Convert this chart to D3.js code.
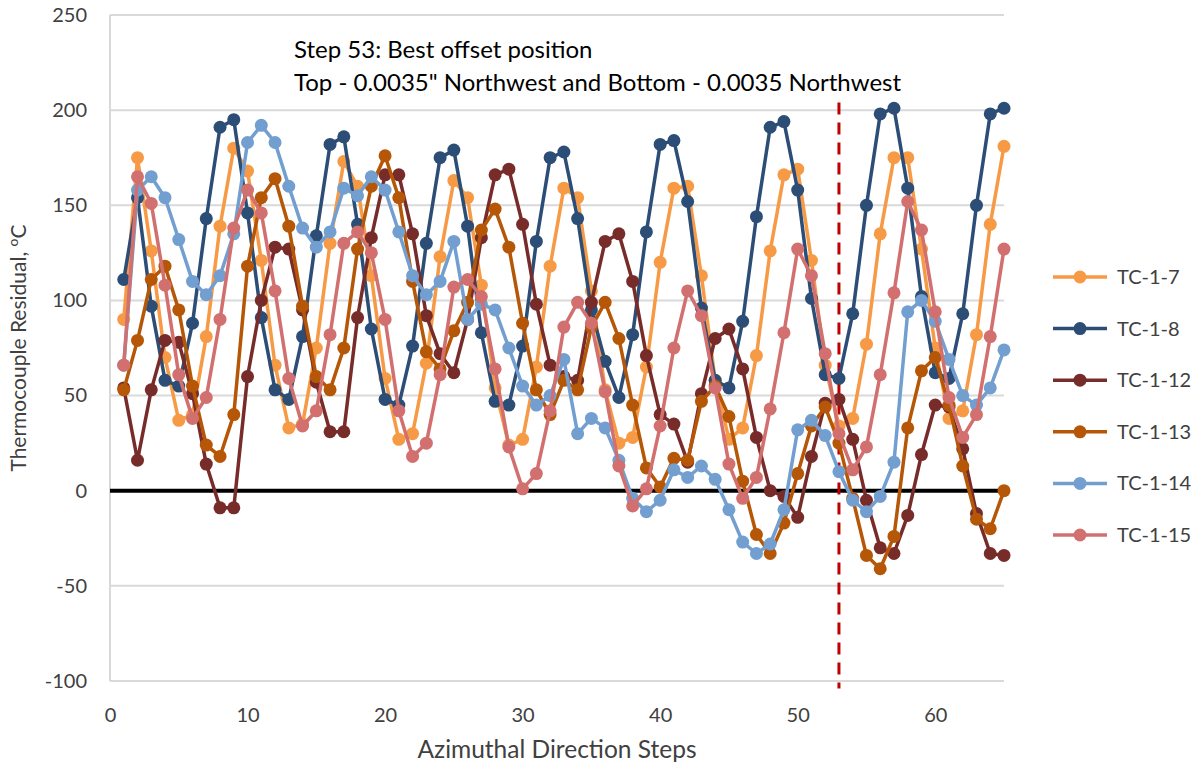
<!DOCTYPE html>
<html>
<head>
<meta charset="utf-8">
<script src="https://cdn.jsdelivr.net/npm/d3@7"></script>
<style>
  body { margin: 0; background: #fff; }
  text { font-family: Lato, "Open Sans", sans-serif; fill: #404040; }
</style>
</head>
<body>
<div id="chart"></div>
<script>
// azimuthal steps 1..65
var steps = d3.range(1, 66);

var seriesNames = ["TC-1-7", "TC-1-8", "TC-1-12", "TC-1-13", "TC-1-14", "TC-1-15"];
var seriesColors = ["#f79a46", "#2c4d75", "#772c2a", "#b65708", "#729fd0", "#d1706e"];

var tc7 = [90, 175, 126, 70, 37, 40, 81, 139, 180, 168, 121, 66, 33, 35, 75, 130, 173, 160, 113, 59,
  27, 30, 67, 123, 163, 154, 108, 54, 24, 27, 65, 118, 159, 154, 105, 53, 25, 28, 65, 120,
  159, 160, 113, 58, 27, 33, 71, 126, 166, 169, 121, 66, 34, 38, 77, 135, 175, 175, 127, 75,
  38, 42, 82, 140, 181];
var tc8 = [111, 154, 97, 58, 55, 88, 143, 191, 195, 146, 91, 53, 48, 81, 134, 182, 186, 140, 85, 48,
  45, 76, 130, 175, 179, 139, 83, 47, 45, 76, 131, 175, 178, 143, 95, 68, 49, 82, 136, 182,
  184, 152, 96, 58, 54, 89, 144, 191, 194, 158, 101, 61, 59, 93, 150, 198, 201, 159, 102, 62,
  59, 93, 150, 198, 201];
var tc12 = [54, 16, 53, 79, 78, 51, 14, -9, -9, 60, 100, 128, 127, 95, 57, 31, 31, 91, 133, 166,
  166, 135, 92, 72, 62, 90, 133, 166, 169, 140, 98, 66, 60, 58, 99, 131, 135, 110, 71, 40,
  35, 15, 51, 80, 85, 64, 28, 0, -3, -14, 18, 46, 48, 27, -5, -30, -33, -13, 19, 45,
  44, 22, -12, -33, -34];
var tc13 = [53, 79, 111, 118, 95, 55, 24, 18, 40, 118, 154, 164, 139, 97, 60, 53, 75, 127, 160, 176,
  154, 110, 73, 64, 84, 99, 137, 148, 128, 88, 53, 40, 58, 53, 86, 99, 80, 45, 12, 2,
  17, 16, 47, 55, 39, 5, -23, -33, -17, 9, 34, 44, 25, -4, -34, -41, -24, 33, 63, 70,
  45, 13, -15, -20, 0];
var tc14 = [66, 158, 165, 154, 132, 110, 103, 113, 135, 183, 192, 183, 160, 138, 128, 136, 159, 155, 165, 158,
  136, 113, 103, 110, 131, 90, 98, 95, 75, 55, 45, 50, 69, 30, 38, 33, 16, -4, -11, -5,
  11, 7, 13, 6, -10, -27, -33, -28, -10, 32, 37, 29, 10, -5, -11, -3, 15, 94, 100, 89,
  69, 50, 45, 54, 74];
var tc15 = [66, 165, 151, 108, 61, 38, 49, 90, 138, 158, 146, 105, 59, 34, 42, 82, 130, 136, 125, 90,
  42, 18, 25, 61, 107, 111, 102, 64, 23, 1, 9, 42, 86, 99, 88, 52, 13, -8, 1, 34,
  75, 105, 92, 54, 14, -4, 7, 43, 83, 127, 113, 72, 30, 11, 23, 61, 104, 152, 137, 94,
  49, 28, 40, 81, 127];

var xTicks = [0, 10, 20, 30, 40, 50, 60];
var yTicks = [-100, -50, 0, 50, 100, 150, 200, 250];
var bestStep = 53;
var noteLines = ["Step 53: Best offset position",
  "Top - 0.0035\" Northwest and Bottom - 0.0035 Northwest"];

var allSeries = [tc7, tc8, tc12, tc13, tc14, tc15];

window.onload = function() {
var width = 1196, height = 769;
var left = 110, right = 1004, plotTop = 15, plotBottom = 681;

var svg = d3.select("#chart")
  .append("svg")
  .attr("width", width)
  .attr("height", height);

var x = d3.scaleLinear().domain([0, 65]).range([left, right]);
var y = d3.scaleLinear().domain([-100, 250]).range([plotBottom, plotTop]);

// gridlines
svg.selectAll("line.grid")
  .data(yTicks)
  .enter()
  .append("line")
  .attr("class", "grid")
  .attr("x1", left)
  .attr("x2", right)
  .attr("y1", function(d) { return y(d); })
  .attr("y2", function(d) { return y(d); })
  .attr("stroke", "#d9d9d9")
  .attr("stroke-width", 2);

// left axis line
svg.append("line")
  .attr("x1", left).attr("x2", left)
  .attr("y1", plotTop).attr("y2", plotBottom)
  .attr("stroke", "#d9d9d9")
  .attr("stroke-width", 2);

// y tick labels (plain hyphen for negatives, like the original)
var yAxis = d3.axisLeft(y).tickValues(yTicks).tickSize(0).tickPadding(23)
  .tickFormat(function(d) { return String(d); });
var gy = svg.append("g")
  .attr("transform", "translate(" + left + ",0)")
  .call(yAxis);
gy.select(".domain").remove();
gy.selectAll("text")
  .attr("font-size", "20px")
  .style("font-family", "Lato, sans-serif")
  .attr("fill", "#404040");

// x tick labels
var xAxis = d3.axisBottom(x).tickValues(xTicks).tickSize(0).tickPadding(27)
  .tickFormat(function(d) { return String(d); });
var gx = svg.append("g")
  .attr("transform", "translate(0," + plotBottom + ")")
  .call(xAxis);
gx.select(".domain").remove();
gx.selectAll("text")
  .attr("font-size", "20px")
  .style("font-family", "Lato, sans-serif")
  .attr("fill", "#404040");

// zero line
svg.append("line")
  .attr("x1", left).attr("x2", right)
  .attr("y1", y(0)).attr("y2", y(0))
  .attr("stroke", "#000")
  .attr("stroke-width", 4);

// best step marker
svg.append("line")
  .attr("x1", x(bestStep)).attr("x2", x(bestStep))
  .attr("y1", y(204)).attr("y2", y(-104))
  .attr("stroke", "#c00000")
  .attr("stroke-width", 3)
  .attr("stroke-dasharray", "12,8");

// series
var line = d3.line()
  .x(function(d, i) { return x(steps[i]); })
  .y(function(d) { return y(d); });

allSeries.forEach(function(vals, s) {
  var g = svg.append("g");
  g.append("path")
    .attr("d", line(vals))
    .attr("fill", "none")
    .attr("stroke", seriesColors[s])
    .attr("stroke-width", 3.5)
    .attr("stroke-linejoin", "round");
  g.selectAll("circle")
    .data(vals)
    .enter()
    .append("circle")
    .attr("cx", function(d, i) { return x(steps[i]); })
    .attr("cy", function(d) { return y(d); })
    .attr("r", 6.5)
    .attr("fill", seriesColors[s]);
});

// note text
svg.selectAll("text.note")
  .data(noteLines)
  .enter()
  .append("text")
  .attr("class", "note")
  .attr("x", 294)
  .attr("y", function(d, i) { return 58 + i * 33; })
  .attr("font-size", "24px")
  .style("fill", "#000")
  .text(function(d) { return d; });

// axis titles
svg.append("text")
  .attr("x", (left + right) / 2)
  .attr("y", 758)
  .attr("text-anchor", "middle")
  .attr("font-size", "24.5px")
  .text("Azimuthal Direction Steps");

var yt = svg.append("text")
  .attr("transform", "translate(26," + (plotTop + plotBottom) / 2 + ") rotate(-90)")
  .attr("text-anchor", "middle")
  .attr("font-size", "21px");
yt.append("tspan").text("Thermocouple Residual, ");
yt.append("tspan").attr("baseline-shift", "super").attr("font-size", "14px").text("o");
yt.append("tspan").text("C");

// legend
var legend = svg.selectAll("g.legend")
  .data(seriesNames)
  .enter()
  .append("g")
  .attr("class", "legend")
  .attr("transform", function(d, i) { return "translate(1053," + (277 + i * 51.6) + ")"; });

legend.append("line")
  .attr("x1", 0).attr("x2", 54)
  .attr("stroke", function(d, i) { return seriesColors[i]; })
  .attr("stroke-width", 3.5);
legend.append("circle")
  .attr("cx", 27)
  .attr("r", 6.5)
  .attr("fill", function(d, i) { return seriesColors[i]; });
legend.append("text")
  .attr("x", 64)
  .attr("dy", "0.35em")
  .attr("font-size", "20px")
  .text(function(d) { return d; });
};
</script>
</body>
</html>
